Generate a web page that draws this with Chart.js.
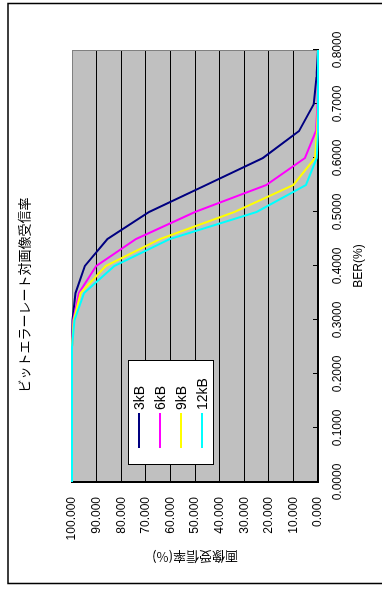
<!DOCTYPE html>
<html>
<head>
<meta charset="utf-8">
<script src="https://cdn.jsdelivr.net/npm/chart.js@4.4.1/dist/chart.umd.min.js"></script>
<style>
  html, body { margin: 0; padding: 0; background: #fff; }
  #wrap { position: relative; width: 382px; height: 590px; overflow: hidden; background: #fff; }
  /* the chart is laid out in landscape and turned a quarter turn counter-clockwise */
  #chart { position: absolute; left: 0; top: 0; transform-origin: 0 0; transform: translateY(590px) rotate(-90deg); }
</style>
</head>
<body>
<div id="wrap"><canvas id="chart" width="590" height="382"></canvas></div>
<script>
// Bit error rate (%) sample points
const berValues = [0.00, 0.05, 0.10, 0.15, 0.20, 0.25, 0.30, 0.35, 0.40, 0.45, 0.50, 0.55, 0.60, 0.65, 0.70, 0.75, 0.80];

// Image reception rate (%) for each image size
const rate3kB  = [100, 100, 100, 100, 100, 100, 99.8, 98.6, 94.8, 85.6, 68.7, 45.5, 22.4, 7.7, 1.7, 0.6, 0];
const rate6kB  = [100, 100, 100, 100, 100, 100, 99.5, 97.2, 90.2, 74.0, 50.0, 21.0, 5.3, 0.8, 0.2, 0, 0];
const rate9kB  = [100, 100, 100, 100, 100, 100, 99.3, 96.5, 86.3, 64.2, 34.0, 10.0, 1.2, 0.4, 0, 0, 0];
const rate12kB = [100, 100, 100, 100, 100, 100, 99.0, 95.1, 82.8, 60.2, 25.0, 4.9, 0.5, 0, 0, 0, 0];

const seriesLabels = ['3kB', '6kB', '9kB', '12kB'];
const seriesColors = ['#000080', '#FF00FF', '#FFFF00', '#00FFFF'];
const seriesRates = [rate3kB, rate6kB, rate9kB, rate12kB];

// Axis tick values
const berTickValues = [0, 0.1, 0.2, 0.3, 0.4, 0.5, 0.6, 0.7, 0.8];
const rateTickValues = [0, 10, 20, 30, 40, 50, 60, 70, 80, 90, 100];

const chartTitle = 'ビットエラーレート対画像受信率';
const berAxisTitle = 'BER(%)';
const rateAxisTitle = '画像受信率(%)';

const latin = '"Liberation Sans", Arial, sans-serif';
const cjk = '"Noto Sans CJK JP", "Noto Sans CJK SC", sans-serif';

Chart.defaults.color = '#000';

const framePlugin = {
  id: 'frame',
  afterLayout(chart) {
    // centre the title across the whole sheet
    const t = chart.titleBlock;
    if (t) { t.left = 0; t.right = chart.width; t.width = chart.width; }
  },
  beforeDraw(chart) {
    const { ctx, chartArea: a, width, height } = chart;
    ctx.save();
    ctx.fillStyle = '#fff';
    ctx.fillRect(0, 0, width, height);
    ctx.strokeStyle = '#000';
    ctx.lineWidth = 1.5;
    ctx.strokeRect(6.5, 8, 580, 420);
    ctx.fillStyle = '#C0C0C0';
    ctx.fillRect(a.left, a.top, a.right - a.left, a.bottom - a.top);
    ctx.restore();
  },
  beforeDatasetsDraw(chart) {
    const { ctx, chartArea: a, scales } = chart;
    ctx.save();
    // grey top and right edges of the plot
    ctx.strokeStyle = '#808080';
    ctx.lineWidth = 1;
    ctx.beginPath();
    ctx.moveTo(a.left, a.top + 0.5);
    ctx.lineTo(a.right - 0.5, a.top + 0.5);
    ctx.lineTo(a.right - 0.5, a.bottom);
    ctx.stroke();
    // inward tick marks on the BER axis
    ctx.strokeStyle = '#000';
    ctx.beginPath();
    for (const t of scales.x.ticks) {
      const x = Math.round(scales.x.getPixelForValue(t.value)) + 0.5;
      ctx.moveTo(x, a.bottom);
      ctx.lineTo(x, a.bottom - 5);
    }
    ctx.stroke();
    ctx.restore();
  },
  afterDatasetsDraw(chart) {
    // legend box sitting inside the plot
    const { ctx, chartArea: a } = chart;
    const bx = a.left + 17, by = a.top + 56, bw = 104, bh = 85;
    ctx.save();
    ctx.fillStyle = '#fff';
    ctx.fillRect(bx, by, bw, bh);
    ctx.strokeStyle = '#000';
    ctx.lineWidth = 1;
    ctx.strokeRect(bx + 0.5, by + 0.5, bw, bh);
    ctx.font = '14px ' + latin;
    ctx.textBaseline = 'middle';
    ctx.textAlign = 'left';
    chart.data.datasets.forEach((ds, i) => {
      const y = by + 11 + i * 21;
      ctx.strokeStyle = ds.borderColor;
      ctx.lineWidth = 2;
      ctx.beginPath();
      ctx.moveTo(bx + 17, y);
      ctx.lineTo(bx + 52, y);
      ctx.stroke();
      ctx.fillStyle = '#000';
      ctx.fillText(ds.label, bx + 55, y + 1);
    });
    ctx.restore();
  }
};

new Chart(document.getElementById('chart'), {
  type: 'line',
  data: {
    datasets: seriesLabels.map((label, i) => ({
      label,
      data: berValues.map((b, j) => ({ x: b, y: seriesRates[i][j] })),
      borderColor: seriesColors[i],
      backgroundColor: seriesColors[i],
      borderWidth: 2,
      pointRadius: 0,
      tension: 0,
      fill: false,
      clip: 2,
      order: seriesLabels.length - i
    }))
  },
  options: {
    responsive: false,
    devicePixelRatio: 1,
    animation: false,
    layout: { padding: { left: 10, right: 50, top: 0, bottom: 0 } },
    plugins: {
      legend: { display: false },
      tooltip: { enabled: false },
      title: {
        display: true,
        text: chartTitle,
        font: { family: cjk, size: 13, weight: 'normal', lineHeight: 1.2 },
        color: '#000',
        padding: { top: 16.5, bottom: 39.9 }
      }
    },
    scales: {
      x: {
        type: 'linear',
        min: 0,
        max: 0.8,
        afterBuildTicks: s => { s.ticks = berTickValues.map(v => ({ value: v })); },
        afterFit: s => { s.height = 64; },
        grid: { drawOnChartArea: false, drawTicks: false },
        border: { display: true, color: '#000', width: 2 },
        ticks: {
          font: { family: latin, size: 12 },
          color: '#000',
          padding: 12,
          maxRotation: 0,
          autoSkip: false,
          callback: v => Number(v).toFixed(4)
        },
        title: {
          display: true,
          text: berAxisTitle,
          font: { family: latin, size: 12, lineHeight: 1.2 },
          color: '#000',
          padding: { top: 4, bottom: 16.3 }
        }
      },
      y: {
        type: 'linear',
        min: 0,
        max: 100,
        afterBuildTicks: s => { s.ticks = rateTickValues.map(v => ({ value: v })); },
        afterFit: s => { s.width = 98; },
        grid: {
          drawTicks: false,
          color: c => (c.tick && c.tick.value === 100 ? '#808080' : '#000'),
          lineWidth: 1
        },
        border: { display: true, color: '#000', width: 2 },
        ticks: {
          font: { family: latin, size: 12 },
          color: '#000',
          padding: 15,
          autoSkip: false,
          callback: v => Number(v).toFixed(3)
        },
        title: {
          display: true,
          text: rateAxisTitle,
          font: { family: cjk, size: 13, lineHeight: 1.2 },
          color: '#000',
          padding: { top: 15.2, bottom: 4 }
        }
      }
    }
  },
  plugins: [framePlugin]
});
</script>
</body>
</html>
